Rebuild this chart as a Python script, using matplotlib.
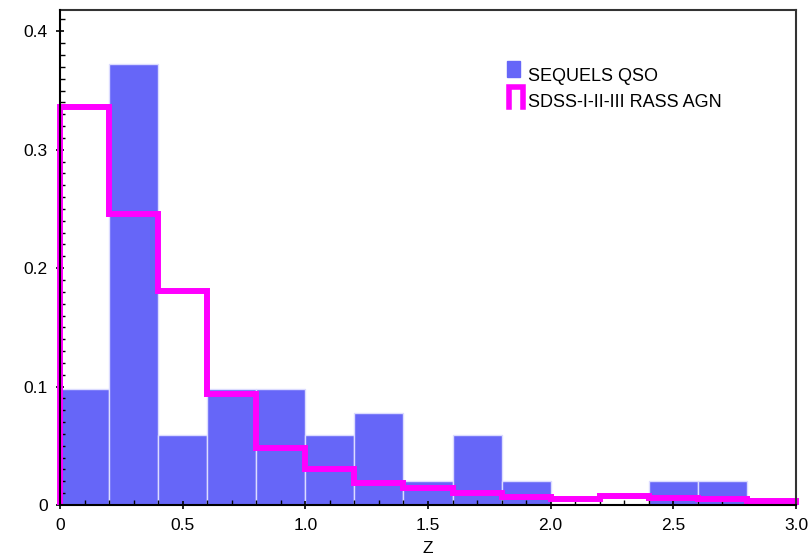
import matplotlib.pyplot as plt
import numpy as np
from matplotlib.patches import Rectangle
from matplotlib.ticker import MultipleLocator

plt.rcParams['font.family'] = ['Liberation Sans', 'DejaVu Sans']

# redshift bins (width 0.2) and normalised histograms
z_edges = [0.0, 0.2, 0.4, 0.6, 0.8, 1.0, 1.2, 1.4, 1.6, 1.8, 2.0,
           2.2, 2.4, 2.6, 2.8, 3.0]
qso_frac = [0.098, 0.372, 0.059, 0.098, 0.098, 0.059, 0.078, 0.020,
            0.059, 0.020, 0.0, 0.0, 0.020, 0.020, 0.0]
agn_frac = [0.336, 0.246, 0.181, 0.094, 0.048, 0.030, 0.019, 0.014,
            0.010, 0.0065, 0.0053, 0.0078, 0.0056, 0.0048, 0.003]

labels = ['SEQUELS QSO', 'SDSS-I-II-III RASS AGN']
bar_color = '#6666f8'
line_color = '#ff00ff'

fig = plt.figure(figsize=(8.11, 5.55), dpi=100)
ax = fig.add_axes([60 / 811, 50 / 555, 736 / 811, 495 / 555])

edges = np.array(z_edges)
ax.bar(edges[:-1], qso_frac, width=np.diff(edges), align='edge',
       color=bar_color, edgecolor='#dcdcff', linewidth=1.0, zorder=1)
ax.stairs(agn_frac, edges, baseline=0, color=line_color, linewidth=4.3,
          zorder=2, clip_on=False)

ax.set_xlim(0, 3.0)
ax.set_ylim(0, 0.418)
ax.xaxis.set_minor_locator(MultipleLocator(0.1))
ax.yaxis.set_minor_locator(MultipleLocator(0.01))
ax.set_xticks([0, 0.5, 1.0, 1.5, 2.0, 2.5, 3.0])
ax.set_xticklabels(['0', '0.5', '1.0', '1.5', '2.0', '2.5', '3.0'])
ax.set_yticks([0, 0.1, 0.2, 0.3, 0.4])
ax.set_yticklabels(['0', '0.1', '0.2', '0.3', '0.4'])

ax.tick_params(which='major', direction='inout', length=6, width=1.2,
               labelsize=12.5, pad=6)
ax.tick_params(which='minor', direction='in', length=3.5, width=1.0)
ax.tick_params(axis='x', which='major', pad=6)

for side in ('left', 'bottom'):
    ax.spines[side].set_linewidth(1.5)
    ax.spines[side].set_color('black')
    ax.spines[side].set_zorder(3)
for side in ('top', 'right'):
    ax.spines[side].set_linewidth(1.5)
    ax.spines[side].set_color('#333333')

ax.set_xlabel('Z', fontsize=12.5, labelpad=6)

# hand-made key in the upper right
tr = ax.transAxes
ax.add_patch(Rectangle((0.607, 0.865), 0.018, 0.032, transform=tr,
                       color=bar_color, clip_on=False))
ax.plot([0.610, 0.610, 0.629, 0.629], [0.804, 0.845, 0.845, 0.804],
        transform=tr, color=line_color, linewidth=4.0,
        solid_joinstyle='miter', clip_on=False)
ax.text(0.636, 0.857, labels[0], transform=tr, fontsize=13,
        va='baseline')
ax.text(0.636, 0.804, labels[1], transform=tr, fontsize=13,
        va='baseline')

fig.savefig('out.png', dpi=100)
